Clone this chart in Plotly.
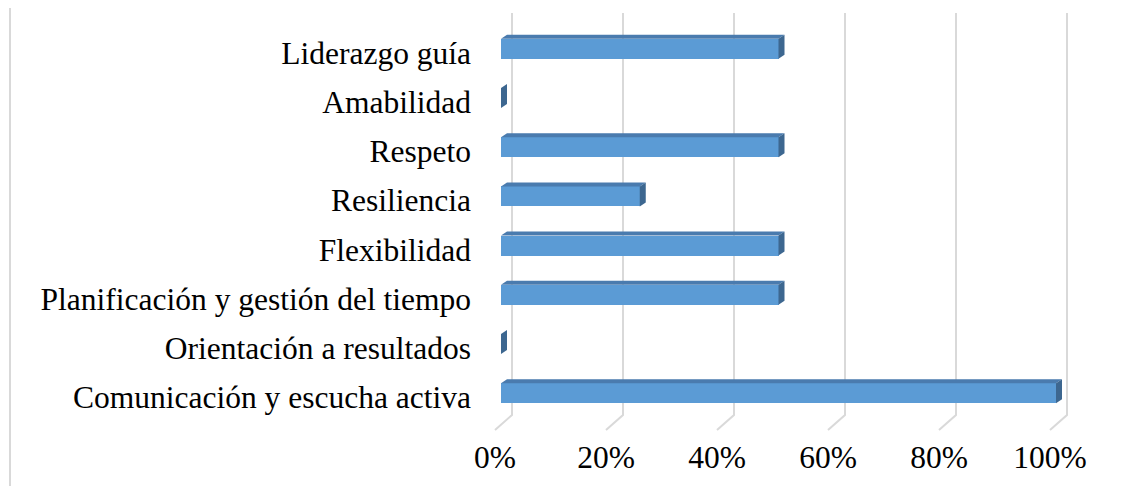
import plotly.graph_objects as go

# Data (bottom to top)
categories = [
    "Comunicación y escucha activa",
    "Orientación a resultados",
    "Planificación y gestión del tiempo",
    "Flexibilidad",
    "Resiliencia",
    "Respeto",
    "Amabilidad",
    "Liderazgo guía",
]
values = [1.0, 0.0, 0.5, 0.5, 0.25, 0.5, 0.0, 0.5]
tick_values = [0, 0.2, 0.4, 0.6, 0.8, 1.0]
tick_labels = ["0%", "20%", "40%", "60%", "80%", "100%"]

# Styling / geometry (pixel-derived, in page coordinates)
FRONT = "#5B9BD5"
TOP = "#4A7BAE"
SIDE = "#3D6790"
GRID = "#D9D9D9"
FONT = "Liberation Serif"
FS = 31.5

PAGE_W, PAGE_H = 1133, 486
OFF = 8                   # default body margin of the html page
W, H = PAGE_W - OFF, PAGE_H - OFF
L, R = 480, 1100          # plot area x pixels (page)
T, B = 10, 432            # plot area y pixels (page)
X0PX, XSCALE = 501, 555   # px of value 0, px per 1.0
Y0PX, YSTEP = 393.2, 49.2 # px of index 0, px per category

xmin = (L - X0PX) / XSCALE
xmax = (R - X0PX) / XSCALE
ymin = -(B - Y0PX) / YSTEP
ymax = (Y0PX - T) / YSTEP

half = 0.2035
dx = 6 / XSCALE
dy = 4 / YSTEP
idx = list(range(len(categories)))

fig = go.Figure()

# Front faces
fig.add_trace(go.Bar(
    x=values, y=idx, orientation="h", width=2 * half,
    marker=dict(color=FRONT, line=dict(width=0)),
    hoverinfo="skip", showlegend=False,
))

# Top faces
tx, ty = [], []
for i, v in zip(idx, values):
    tx += [0, v, v + dx, dx, 0, None]
    ty += [i + half, i + half, i + half + dy, i + half + dy, i + half, None]
fig.add_trace(go.Scatter(x=tx, y=ty, mode="lines", fill="toself",
                         fillcolor=TOP, line=dict(width=0, color=TOP),
                         hoverinfo="skip", showlegend=False))

# Right side faces
sx, sy = [], []
for i, v in zip(idx, values):
    sx += [v, v, v + dx, v + dx, v, None]
    sy += [i - half, i + half, i + half + dy, i - half + dy, i - half, None]
fig.add_trace(go.Scatter(x=sx, y=sy, mode="lines", fill="toself",
                         fillcolor=SIDE, line=dict(width=0, color=SIDE),
                         hoverinfo="skip", showlegend=False))

# 3D gridlines (back wall + floor)
g_back = 11 / XSCALE
g_front = -6 / XSCALE
y_top = (Y0PX - 13) / YSTEP
y_floor_back = -(415 - Y0PX) / YSTEP
y_floor_front = -(430 - Y0PX) / YSTEP
shapes = []
for t in tick_values:
    shapes.append(dict(
        type="path", xref="x", yref="y", layer="below",
        path=f"M {t + g_back},{y_top} L {t + g_back},{y_floor_back} L {t + g_front},{y_floor_front}",
        line=dict(color=GRID, width=2),
    ))
# left chart border
shapes.append(dict(
    type="line", xref="paper", yref="paper",
    x0=(10 - L) / (R - L), x1=(10 - L) / (R - L), y0=-0.2, y1=1.2,
    line=dict(color=GRID, width=2),
))

fig.update_layout(
    width=W, height=H,
    margin=dict(l=L - OFF, r=PAGE_W - R, t=T - OFF, b=PAGE_H - B),
    paper_bgcolor="white", plot_bgcolor="white",
    shapes=shapes,
    bargap=0,
    font=dict(family=FONT, size=FS, color="#000000"),
    xaxis=dict(
        range=[xmin, xmax], tickvals=tick_values, ticktext=tick_labels,
        showgrid=False, zeroline=False, showline=False, ticks="",
        automargin=False,
        ticklabelshift=-6, ticklabelstandoff=3,
        tickfont=dict(family=FONT, size=FS, color="#000000"),
    ),
    yaxis=dict(
        range=[ymin, ymax], tickvals=idx, ticktext=categories,
        showgrid=False, zeroline=False, showline=False, ticks="",
        automargin=False,
        ticklabelstandoff=8, ticklabelshift=4,
        tickfont=dict(family=FONT, size=FS, color="#000000"),
    ),
)

fig.write_html("out.html")
